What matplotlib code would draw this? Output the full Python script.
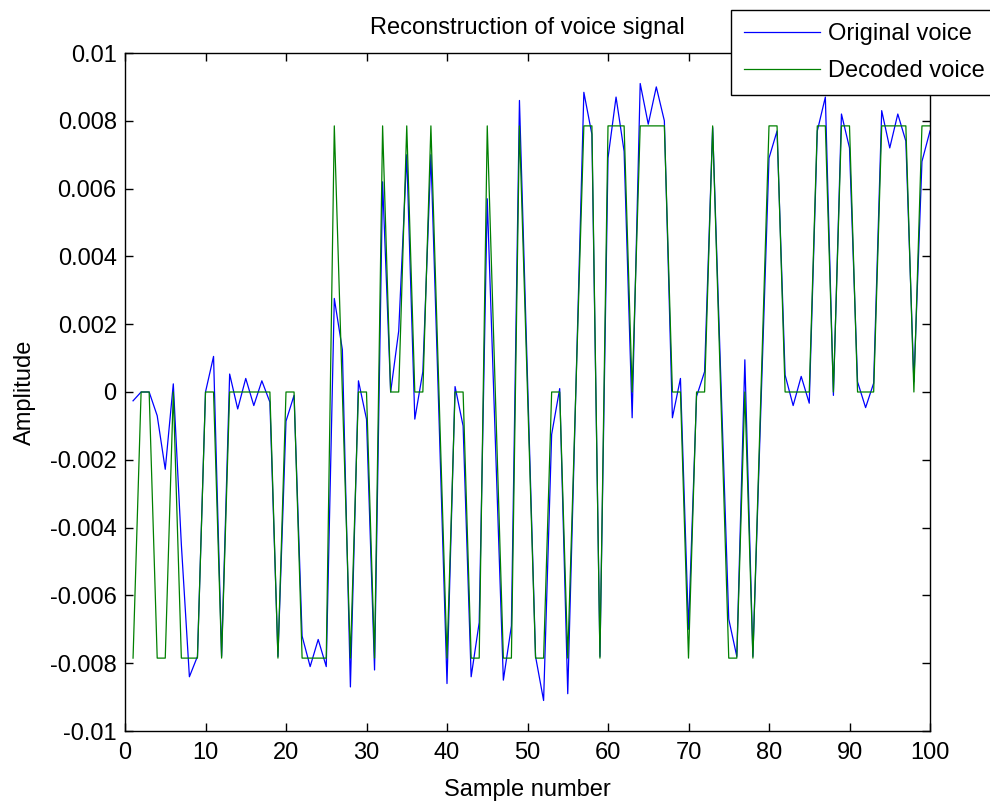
import matplotlib
matplotlib.use("Agg")
import matplotlib.pyplot as plt
import numpy as np

samples = list(range(1, 101))
original = [
    -0.00026, 0.0, 0.0, -0.0007, -0.00228, 0.00024, -0.0045, -0.0084, -0.0078, 0.0,
    0.00105, -0.0078, 0.00053, -0.0005, 0.0004, -0.0004, 0.00033, -0.0003, -0.0078, -0.00086,
    -0.0001, -0.0072, -0.0081, -0.0073, -0.0081, 0.00276, 0.00125, -0.0087, 0.00033, -0.0008,
    -0.0082, 0.0062, 0.0, 0.0018, 0.0070, -0.0008, 0.0006, 0.0070, -0.0007, -0.0086,
    0.00016, -0.0010, -0.0084, -0.0068, 0.0057, -0.0014, -0.0085, -0.0069, 0.0086, 0.0004,
    -0.0078, -0.0091, -0.00125, 0.0001, -0.0089, 0.0, 0.00884, 0.0076, -0.0078, 0.0069,
    0.0087, 0.0071, -0.00076, 0.0091, 0.0079, 0.0090, 0.0080, -0.00076, 0.0004, -0.0070,
    -0.00013, 0.0006, 0.0078, 0.0005, -0.0067, -0.0078, 0.00095, -0.0078, -0.0004, 0.0069,
    0.0077, 0.0005, -0.0004, 0.00046, -0.00033, 0.0077, 0.0087, -0.0001, 0.0082, 0.0072,
    0.0003, -0.00046, 0.00026, 0.0083, 0.0072, 0.0082, 0.0074, 0.0003, 0.0068, 0.0077,
]
q = 0.00785
decoded_levels = [
    -1, 0, 0, -1, -1, 0, -1, -1, -1, 0,
    0, -1, 0, 0, 0, 0, 0, 0, -1, 0,
    0, -1, -1, -1, -1, 1, 0, -1, 0, 0,
    -1, 1, 0, 0, 1, 0, 0, 1, 0, -1,
    0, 0, -1, -1, 1, 0, -1, -1, 1, 0,
    -1, -1, 0, 0, -1, 0, 1, 1, -1, 1,
    1, 1, 0, 1, 1, 1, 1, 0, 0, -1,
    0, 0, 1, 0, -1, -1, 0, -1, 0, 1,
    1, 0, 0, 0, 0, 1, 1, 0, 1, 1,
    0, 0, 0, 1, 1, 1, 1, 0, 1, 1,
]
decoded = [q * v for v in decoded_levels]

yticks = [-0.01, -0.008, -0.006, -0.004, -0.002, 0, 0.002, 0.004, 0.006, 0.008, 0.01]
ytick_labels = ["-0.01", "-0.008", "-0.006", "-0.004", "-0.002", "0",
                "0.002", "0.004", "0.006", "0.008", "0.01"]
xticks = [0, 10, 20, 30, 40, 50, 60, 70, 80, 90, 100]

plt.rcParams['font.family'] = ['Liberation Sans', 'DejaVu Sans']
fs = 17

fig = plt.figure(figsize=(9.9, 8.07), dpi=100)
ax = fig.add_axes([125/990, 1 - 731/807, (930 - 125)/990, (731 - 53)/807])

ax.plot(samples, original, color=(0, 0, 1), lw=0.9, label="Original voice")
ax.plot(samples, decoded, color=(0, 0.5, 0), lw=0.9, label="Decoded voice")

ax.set_xlim(0, 100)
ax.set_ylim(-0.01, 0.01)
ax.set_xticks(xticks)
ax.set_xticklabels([str(t) for t in xticks], fontsize=fs)
ax.set_yticks(yticks)
ax.set_yticklabels(ytick_labels, fontsize=fs)
ax.tick_params(direction='in', length=6, width=1, top=True, right=True)
ax.tick_params(axis='x', pad=8)
ax.tick_params(axis='y', pad=6)
for s in ax.spines.values():
    s.set_linewidth(1)

ax.set_title("Reconstruction of voice signal", fontsize=fs, pad=14)
ax.set_xlabel("Sample number", fontsize=fs, labelpad=11)
ax.set_ylabel("Amplitude", fontsize=fs, labelpad=10)

leg = ax.legend(loc='upper left', bbox_to_anchor=(731/990, 1 - 10/807),
                bbox_transform=fig.transFigure, borderaxespad=0, fontsize=fs,
                fancybox=False, framealpha=1, edgecolor='black',
                handlelength=3.2, handletextpad=0.35, labelspacing=0.65,
                borderpad=0.55)
leg.get_frame().set_linewidth(1)

fig.savefig("out.png", dpi=100)
